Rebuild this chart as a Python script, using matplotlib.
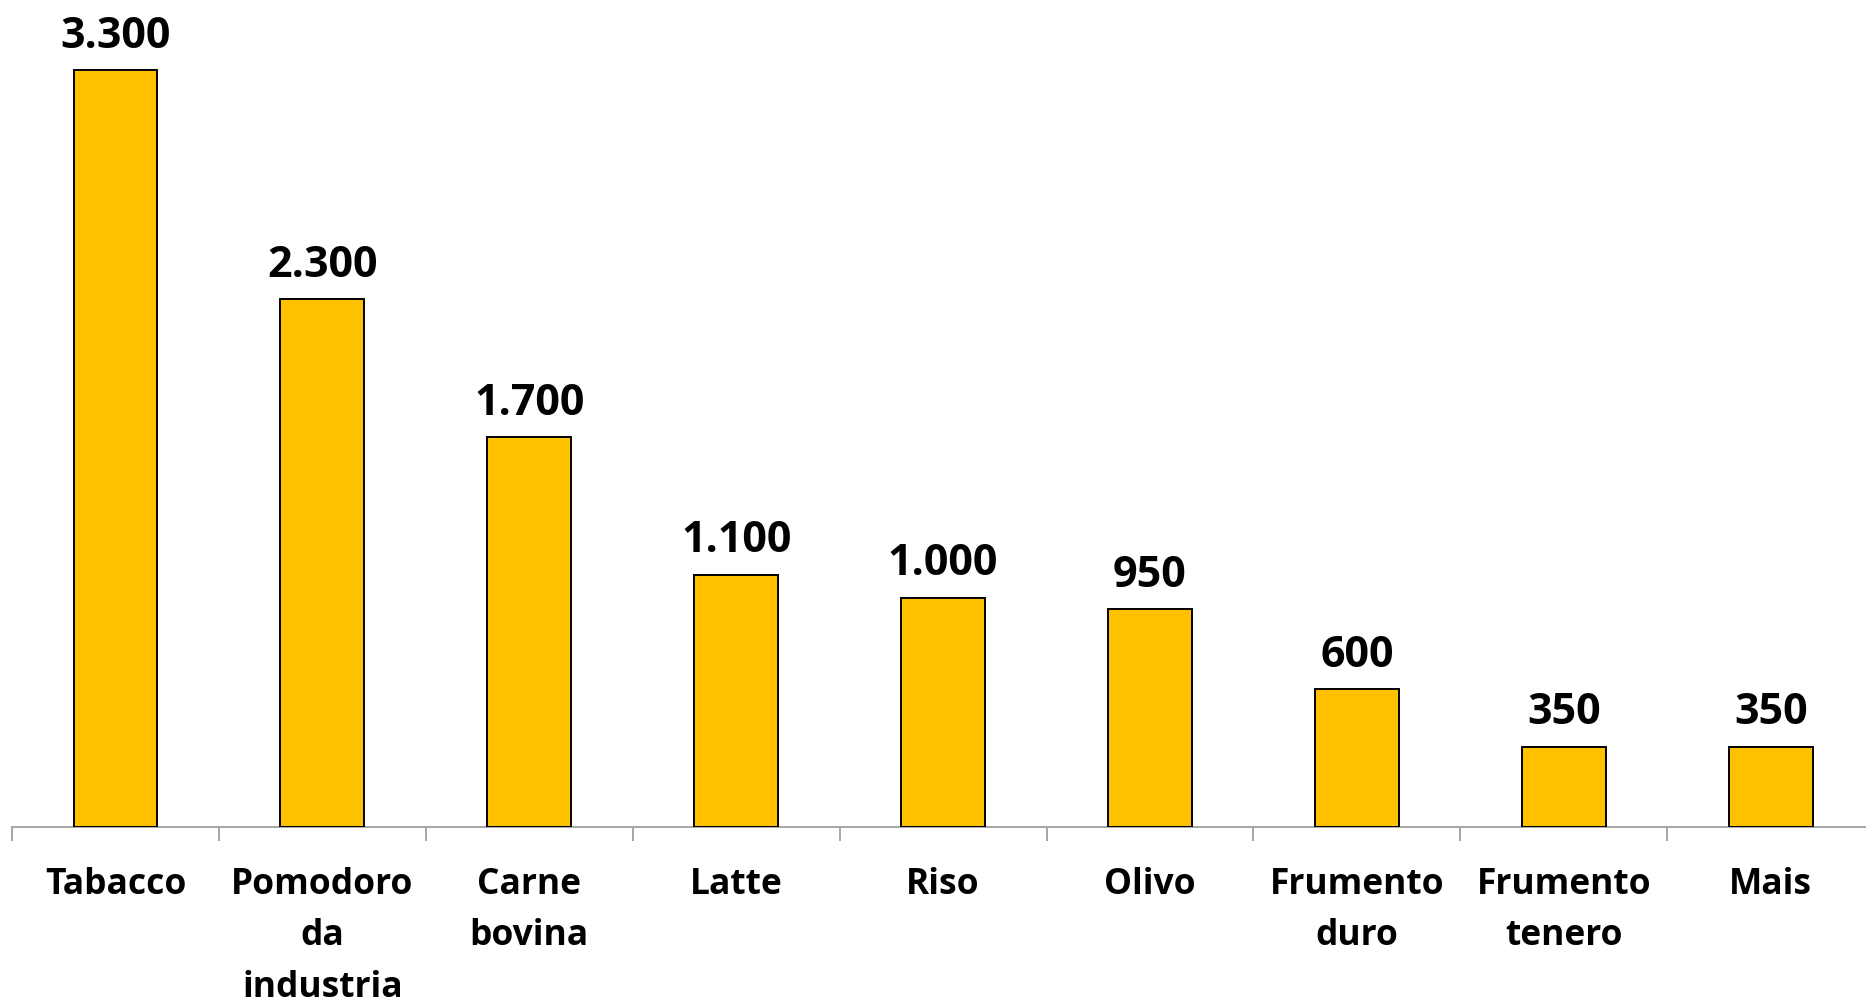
import matplotlib
matplotlib.use('Agg')
import matplotlib.pyplot as plt
import numpy as np

categories = ['Tabacco', 'Pomodoro\nda\nindustria', 'Carne\nbovina', 'Latte', 'Riso',
              'Olivo', 'Frumento\nduro', 'Frumento\ntenero', 'Mais']
values = [3300, 2300, 1700, 1100, 1000, 950, 600, 350, 350]


def fmt_it(v):
    # thousands separator with a dot, as in the source
    return f'{v:,}'.replace(',', '.')


def main():
    plt.rcParams['font.family'] = ['Open Sans', 'DejaVu Sans']
    W, H = 1866, 1002
    fig = plt.figure(figsize=(W / 100, H / 100), dpi=100)
    step = 206.9
    left, base = 12, 827
    ax = fig.add_axes([left / W, 1 - base / H, 9 * step / W, base / H])

    x = np.arange(len(values))
    ax.bar(x, values, width=0.405, color='#FFC000', edgecolor='black',
           linewidth=1.4, zorder=3)
    ax.set_xlim(-0.5, 8.5)
    ax.set_ylim(0, base / (757 / 3300))

    for xi, v in zip(x, values):
        ax.annotate(fmt_it(v), (xi, v), xytext=(0, 9), textcoords='offset points',
                    ha='center', va='bottom', fontsize=31, fontweight='bold')

    for s in ['top', 'right', 'left']:
        ax.spines[s].set_visible(False)
    ax.spines['bottom'].set_color('#A6A6A6')
    ax.spines['bottom'].set_linewidth(1.4)
    ax.set_yticks([])

    ax.set_xticks(np.arange(-0.5, 9.0, 1.0))
    ax.set_xticklabels([])
    ax.tick_params(axis='x', which='major', length=10, width=1.4, color='#A6A6A6')
    ax.set_xticks(x, minor=True)
    ax.set_xticklabels(categories, minor=True, fontsize=25.5, fontweight='bold',
                       linespacing=1.56)
    ax.tick_params(axis='x', which='minor', length=0, pad=29)

    fig.savefig('out.png', dpi=100)


if __name__ == '__main__':
    main()
